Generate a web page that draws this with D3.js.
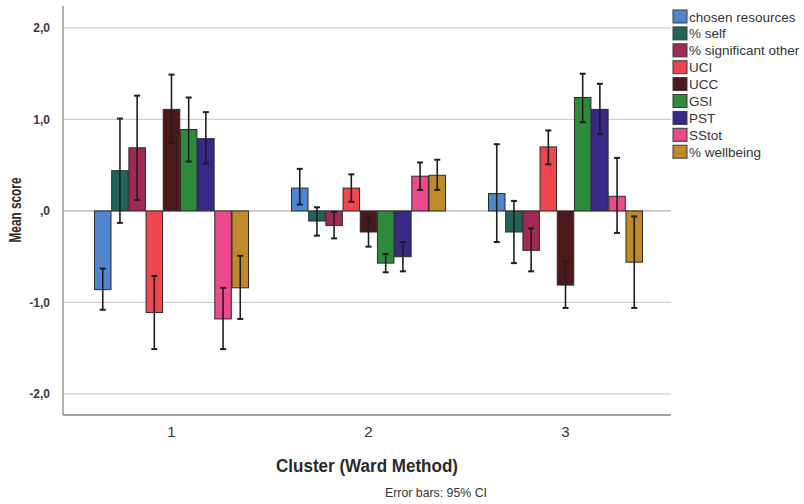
<!DOCTYPE html>
<html>
<head>
<meta charset="utf-8">
<script src="https://cdn.jsdelivr.net/npm/d3@7"></script>
<style>
  body { margin: 0; background: #fff; }
  svg { font-family: Arial, "Liberation Sans", sans-serif; }
</style>
</head>
<body>
<svg id="chart" width="804" height="504"></svg>
<script>
const clusters = ['1', '2', '3'];
const variables = ['chosen resources', '% self', '% significant other', 'UCI', 'UCC', 'GSI', 'PST', 'SStot', '% wellbeing'];
const colors = ['#4f86cf', '#22645a', '#a02a55', '#f0464f', '#4a1a1a', '#2c8a3a', '#3a2888', '#ec4a8c', '#c08a2a'];

// mean score per variable, and 95% CI bounds
const cluster1Mean = [-0.86, 0.44, 0.69, -1.11, 1.11, 0.89, 0.79, -1.18, -0.84];
const cluster1Low  = [-1.08, -0.13, 0.12, -1.51, 0.74, 0.54, 0.52, -1.51, -1.18];
const cluster1High = [-0.63, 1.01, 1.26, -0.71, 1.49, 1.24, 1.08, -0.84, -0.49];

const cluster2Mean = [0.25, -0.11, -0.16, 0.25, -0.23, -0.57, -0.50, 0.38, 0.39];
const cluster2Low  = [0.07, -0.27, -0.30, 0.10, -0.39, -0.67, -0.66, 0.23, 0.23];
const cluster2High = [0.46, 0.04, -0.01, 0.40, -0.07, -0.47, -0.34, 0.53, 0.56];

const cluster3Mean = [0.19, -0.23, -0.43, 0.70, -0.81, 1.24, 1.11, 0.16, -0.56];
const cluster3Low  = [-0.34, -0.57, -0.66, 0.51, -1.06, 0.97, 0.84, -0.24, -1.06];
const cluster3High = [0.73, 0.11, -0.19, 0.88, -0.55, 1.50, 1.39, 0.58, -0.06];

const yTicks = [-2, -1, 0, 1, 2];

const means = [cluster1Mean, cluster2Mean, cluster3Mean];
const lows = [cluster1Low, cluster2Low, cluster3Low];
const highs = [cluster1High, cluster2High, cluster3High];

const rows = [];
clusters.forEach((c, ci) => {
  variables.forEach((v, vi) => {
    rows.push({ cluster: c, variable: v, mean: means[ci][vi], low: lows[ci][vi], high: highs[ci][vi], color: colors[vi] });
  });
});

const plotLeft = 63;
const plotRight = 671;
const plotTop = 6;
const plotBottom = 415;

const svg = d3.select('#chart');

const x = d3.scaleBand()
  .domain(clusters)
  .range([73, 664]);

const inner = d3.scaleBand()
  .domain(variables)
  .range([-77, 77])
  .paddingInner(0.04);

const y = d3.scaleLinear()
  .domain([-2.23, 2.24])
  .range([plotBottom, plotTop]);

// gridlines
svg.append('g')
  .selectAll('line')
  .data(yTicks)
  .enter()
  .append('line')
  .attr('x1', plotLeft)
  .attr('x2', plotRight)
  .attr('y1', d => y(d))
  .attr('y2', d => y(d))
  .attr('stroke', d => d === 0 ? '#b5aea6' : '#d2cec9')
  .attr('stroke-width', 1.2);

// y axis labels, SPSS style: comma decimals, no leading zero
const fmt = d => {
  if (d === 0) return ',0';
  return d.toFixed(1).replace('.', ',');
};
const yAxis = svg.append('g')
  .attr('transform', `translate(${plotLeft},0)`)
  .call(d3.axisLeft(y).tickValues(yTicks).tickFormat(fmt).tickSize(0).tickPadding(13));
yAxis.select('.domain').remove();
yAxis.selectAll('text')
  .attr('font-size', '12px')
  .attr('font-weight', 'bold')
  .attr('fill', '#3a3a3a');

// bars
const groups = svg.append('g')
  .selectAll('g.cluster')
  .data(clusters)
  .enter()
  .append('g')
  .attr('class', 'cluster')
  .attr('transform', d => `translate(${x(d) + x.bandwidth() / 2},0)`);

groups.selectAll('rect')
  .data(d => rows.filter(r => r.cluster === d))
  .enter()
  .append('rect')
  .attr('x', d => inner(d.variable))
  .attr('width', inner.bandwidth())
  .attr('y', d => y(Math.max(0, d.mean)))
  .attr('height', d => Math.abs(y(d.mean) - y(0)))
  .attr('fill', d => d.color)
  .attr('stroke', '#2a2a2a')
  .attr('stroke-width', 1);

// error bars
const err = groups.selectAll('g.err')
  .data(d => rows.filter(r => r.cluster === d))
  .enter()
  .append('g')
  .attr('class', 'err')
  .attr('transform', d => `translate(${inner(d.variable) + inner.bandwidth() / 2},0)`);

err.append('line')
  .attr('y1', d => y(d.low))
  .attr('y2', d => y(d.high))
  .attr('stroke', '#1e1e1e')
  .attr('stroke-width', 1.6);

err.selectAll('line.cap')
  .data(d => [d.low, d.high])
  .enter()
  .append('line')
  .attr('class', 'cap')
  .attr('x1', -3)
  .attr('x2', 3)
  .attr('y1', d => y(d))
  .attr('y2', d => y(d))
  .attr('stroke', '#1e1e1e')
  .attr('stroke-width', 2);

// axis lines
svg.append('line')
  .attr('x1', plotLeft).attr('x2', plotLeft)
  .attr('y1', plotTop).attr('y2', plotBottom)
  .attr('stroke', '#8a8580').attr('stroke-width', 1.3);
svg.append('line')
  .attr('x1', plotLeft).attr('x2', plotRight)
  .attr('y1', plotBottom).attr('y2', plotBottom)
  .attr('stroke', '#8a8580').attr('stroke-width', 1.3);

// x tick labels
svg.append('g')
  .selectAll('text')
  .data(clusters)
  .enter()
  .append('text')
  .text(d => d)
  .attr('x', d => x(d) + x.bandwidth() / 2)
  .attr('y', 437)
  .attr('text-anchor', 'middle')
  .attr('font-size', '15px')
  .attr('fill', '#333');

// axis titles
svg.append('text')
  .text('Mean score')
  .attr('transform', 'translate(21,210) rotate(-90)')
  .attr('text-anchor', 'middle')
  .attr('font-size', '16px')
  .attr('font-weight', 'bold')
  .attr('textLength', 65)
  .attr('lengthAdjust', 'spacingAndGlyphs')
  .attr('fill', '#2a2a2a');

svg.append('text')
  .text('Cluster (Ward Method)')
  .attr('x', 367)
  .attr('y', 472)
  .attr('text-anchor', 'middle')
  .attr('font-size', '18px')
  .attr('font-weight', 'bold')
  .attr('textLength', 182)
  .attr('lengthAdjust', 'spacingAndGlyphs')
  .attr('fill', '#2a2a2a');

svg.append('text')
  .text('Error bars: 95% CI')
  .attr('x', 436)
  .attr('y', 497)
  .attr('text-anchor', 'middle')
  .attr('font-size', '13px')
  .attr('textLength', 102)
  .attr('lengthAdjust', 'spacingAndGlyphs')
  .attr('fill', '#333');

// legend
const legend = svg.append('g')
  .selectAll('g.item')
  .data(variables)
  .enter()
  .append('g')
  .attr('class', 'item')
  .attr('transform', (d, i) => `translate(673,${10 + i * 16.9})`);

legend.append('rect')
  .attr('width', 14)
  .attr('height', 13)
  .attr('fill', (d, i) => colors[i])
  .attr('stroke', '#3a3a3a')
  .attr('stroke-width', 1);

legend.append('text')
  .text(d => d)
  .attr('x', 16)
  .attr('y', 11.5)
  .attr('font-size', '13.5px')
  .attr('fill', '#333');
</script>
</body>
</html>
